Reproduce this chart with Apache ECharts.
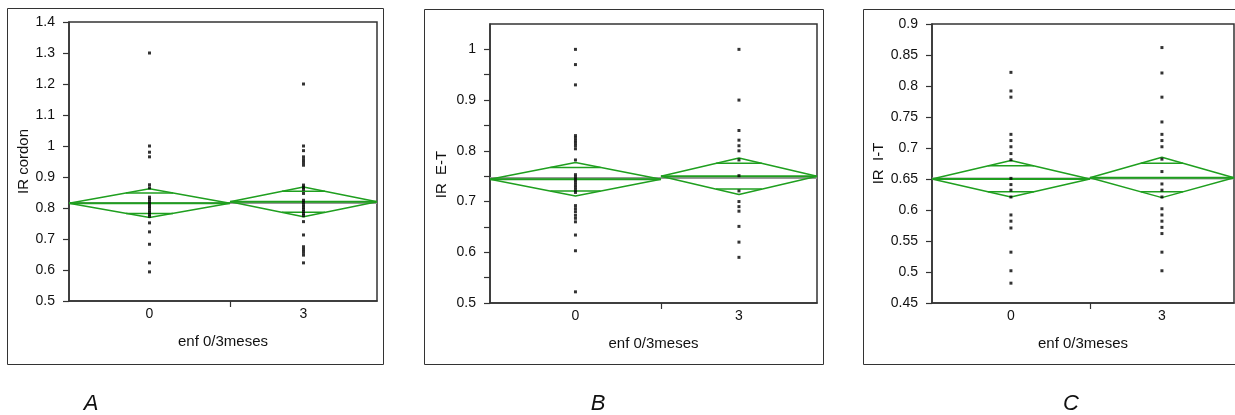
<!DOCTYPE html>
<html>
<head>
<meta charset="utf-8">
<script src="https://cdn.jsdelivr.net/npm/echarts@6/dist/echarts.min.js"></script>
<style>
  html, body { margin: 0; padding: 0; background: #fff; }
  #chart { width: 1235px; height: 415px; }
</style>
</head>
<body>
<div id="chart"></div>
<script>
// Groups on the x axis (months of treatment) and their sizes, which set the group widths
const groupLabels = ['0', '3'];
const groupN = [23, 21];

// Panel A: IR cordon
const irCordon0 = [1.30, 1.00, 0.98, 0.965, 0.875, 0.865, 0.835, 0.828, 0.82, 0.813, 0.806, 0.80, 0.793, 0.786, 0.78, 0.773, 0.752, 0.723, 0.683, 0.623, 0.594];
const irCordon3 = [1.20, 1.00, 0.985, 0.965, 0.956, 0.947, 0.938, 0.874, 0.867, 0.86, 0.847, 0.825, 0.818, 0.81, 0.803, 0.796, 0.789, 0.782, 0.775, 0.756, 0.713, 0.675, 0.666, 0.657, 0.648, 0.623];
const irCordonMean = [0.815, 0.820];
const irCordonLow = [0.769, 0.772];
const irCordonHigh = [0.862, 0.868];
const irCordonGrand = 0.8165;

// Panel B: IR E-T
const irET0 = [1.00, 0.97, 0.93, 0.83, 0.825, 0.82, 0.815, 0.81, 0.804, 0.782, 0.753, 0.748, 0.743, 0.738, 0.733, 0.728, 0.723, 0.718, 0.692, 0.686, 0.68, 0.673, 0.667, 0.66, 0.634, 0.603, 0.522];
const irET3 = [1.00, 0.90, 0.84, 0.821, 0.81, 0.80, 0.782, 0.751, 0.721, 0.70, 0.69, 0.681, 0.651, 0.62, 0.59];
const irETMean = [0.744, 0.750];
const irETLow = [0.711, 0.714];
const irETHigh = [0.777, 0.786];
const irETGrand = 0.7465;

// Panel C: IR I-T
const irIT0 = [0.822, 0.792, 0.782, 0.722, 0.712, 0.702, 0.691, 0.681, 0.651, 0.641, 0.632, 0.621, 0.592, 0.582, 0.571, 0.532, 0.502, 0.482];
const irIT3 = [0.862, 0.821, 0.782, 0.742, 0.722, 0.712, 0.702, 0.682, 0.662, 0.642, 0.632, 0.621, 0.602, 0.592, 0.582, 0.572, 0.562, 0.532, 0.502];
const irITMean = [0.650, 0.652];
const irITLow = [0.621, 0.620];
const irITHigh = [0.680, 0.685];
const irITGrand = 0.651;

// Y axis scales
const yAxisA = { min: 0.5, max: 1.4, interval: 0.1, title: 'IR cordon' };
const yAxisB = { min: 0.5, max: 1.05, interval: 0.05, title: 'IR  E-T' };
const yAxisC = { min: 0.45, max: 0.9, interval: 0.05, title: 'IR  I-T' };
const xTitle = 'enf 0/3meses';
const panelLetters = ['A', 'B', 'C'];

const panels = [
  { groups: [irCordon0, irCordon3], mean: irCordonMean, low: irCordonLow, high: irCordonHigh, grand: irCordonGrand, y: yAxisA },
  { groups: [irET0, irET3], mean: irETMean, low: irETLow, high: irETHigh, grand: irETGrand, y: yAxisB },
  { groups: [irIT0, irIT3], mean: irITMean, low: irITLow, high: irITHigh, grand: irITGrand, y: yAxisC }
];

// Layout of the three plot frames (px)
const layout = [
  { left: 69,  top: 22, width: 308, height: 279, nameGap: 38, namePad: [0, 0, 0, 0],  box: [7, 8, 376, 356] },
  { left: 490, top: 24, width: 327, height: 279, nameGap: 41, namePad: [0, 22, 0, 0], box: [424, 9, 399, 355] },
  { left: 932, top: 24, width: 302, height: 279, nameGap: 45, namePad: [0, 0, 0, 0],  box: [863, 9, 380, 355] }
];
const letterPos = [[91, 404], [598, 404], [1071, 404]];

const GREEN = '#1f9f1f';
const GRAY = '#999999';
const INK = '#111';
const FRAME = '#333';
const FONT = 'Liberation Sans, Arial, sans-serif';

const nTotal = groupN[0] + groupN[1];
const groupStart = [0, groupN[0]];
const groupCenter = [groupN[0] / 2, groupN[0] + groupN[1] / 2];

const grids = [], xAxes = [], yAxes = [], series = [], graphics = [];

function lineSeries(idx, data, color, width, z) {
  return {
    type: 'line', xAxisIndex: idx, yAxisIndex: idx, data: data,
    symbol: 'none', silent: true, animation: false, z: z,
    lineStyle: { color: color, width: width }
  };
}

panels.forEach((p, i) => {
  const L = layout[i];
  grids.push({ left: L.left, top: L.top, width: L.width, height: L.height,
    show: true, borderColor: FRAME, borderWidth: 1.5, backgroundColor: 'transparent' });

  xAxes.push({
    gridIndex: i, type: 'value', min: 0, max: nTotal,
    name: xTitle, nameLocation: 'middle', nameGap: 33,
    nameTextStyle: { fontFamily: FONT, fontSize: 15, color: INK },
    axisLine: { show: true, lineStyle: { color: FRAME, width: 1.5 } },
    axisTick: { show: true, length: 6, customValues: [groupN[0]], lineStyle: { color: FRAME, width: 1.2 } },
    axisLabel: { show: true, margin: 6, customValues: groupCenter.slice(),
      formatter: v => (v < groupN[0] ? groupLabels[0] : groupLabels[1]),
      fontFamily: FONT, fontSize: 14, color: INK },
    splitLine: { show: false }
  });

  const ya = p.y;
  const labelStep = i === 1 ? 0.1 : ya.interval;
  yAxes.push({
    gridIndex: i, type: 'value', min: ya.min, max: ya.max, interval: ya.interval,
    name: ya.title, nameLocation: 'middle', nameGap: L.nameGap, nameRotate: 90,
    nameTextStyle: { fontFamily: FONT, fontSize: 15, color: INK, padding: L.namePad },
    axisLine: { show: true, lineStyle: { color: FRAME, width: 1.5 } },
    axisTick: { show: true, length: 6, lineStyle: { color: FRAME, width: 1.2 } },
    axisLabel: {
      margin: 14, fontFamily: FONT, fontSize: 14, color: INK,
      showMaxLabel: i !== 1,
      formatter: v => {
        const k = Math.round((v - ya.min) / labelStep * 1000) / 1000;
        if (Math.abs(k - Math.round(k)) > 1e-6) return '';
        return String(Math.round(v * 1000) / 1000);
      }
    },
    splitLine: { show: false }
  });

  // grand mean across the whole frame
  series.push(lineSeries(i, [[0, p.grand], [nTotal, p.grand]], GRAY, 2, 1));

  // means diamonds with overlap marks
  for (let g = 0; g < 2; g++) {
    const x0 = groupStart[g], x1 = groupStart[g] + groupN[g], xc = groupCenter[g];
    const m = p.mean[g], lo = p.low[g], hi = p.high[g];
    series.push(lineSeries(i, [[x0, m], [xc, hi], [x1, m], [xc, lo], [x0, m]], GREEN, 1.5, 3));
    series.push(lineSeries(i, [[x0, m], [x1, m]], GREEN, 2, 3));
    const f = 1 / Math.SQRT2;
    const halfW = (1 - f) * groupN[g] / 2;
    series.push(lineSeries(i, [[xc - halfW, m + (hi - m) * f], [xc + halfW, m + (hi - m) * f]], GREEN, 1.5, 3));
    series.push(lineSeries(i, [[xc - halfW, m - (m - lo) * f], [xc + halfW, m - (m - lo) * f]], GREEN, 1.5, 3));

    series.push({
      type: 'scatter', xAxisIndex: i, yAxisIndex: i,
      data: p.groups[g].map(v => [xc, v]),
      symbol: 'rect', symbolSize: 3, silent: true, animation: false, z: 5,
      itemStyle: { color: '#000' }
    });
  }

  graphics.push({ type: 'rect', silent: true, z: 0,
    shape: { x: L.box[0] + 0.5, y: L.box[1] + 0.5, width: L.box[2], height: L.box[3] },
    style: { fill: 'none', stroke: '#333', lineWidth: 1 } });
  graphics.push({ type: 'text', silent: true, x: letterPos[i][0], y: letterPos[i][1],
    style: { text: panelLetters[i], font: 'italic 22px ' + FONT, fill: INK,
      textAlign: 'center', textVerticalAlign: 'middle' } });
});

const chart = echarts.init(document.getElementById('chart'), null, { renderer: 'canvas' });
chart.setOption({
  animation: false,
  backgroundColor: '#fff',
  grid: grids,
  xAxis: xAxes,
  yAxis: yAxes,
  series: series,
  graphic: graphics
});
</script>
</body>
</html>
